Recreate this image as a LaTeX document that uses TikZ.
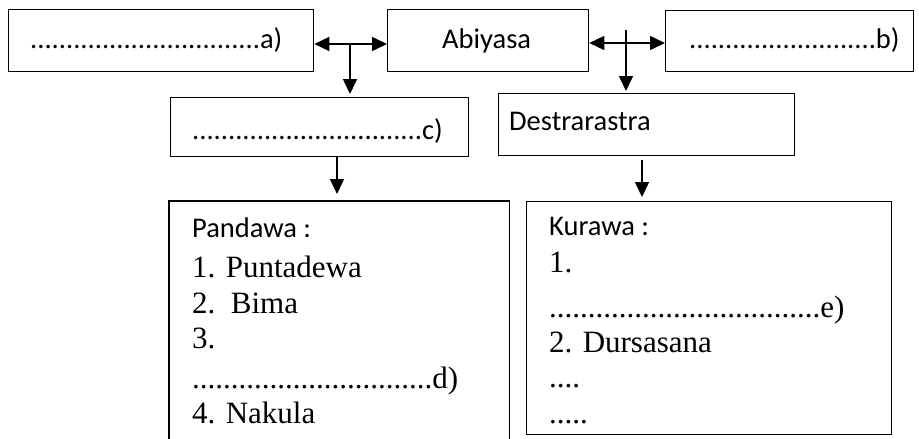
\documentclass[tikz,border=0pt]{standalone}
\usepackage{fontspec}
\setmainfont{Liberation Serif}
\newfontfamily\calib{Carlito}
\usetikzlibrary{arrows.meta}
\begin{document}
\begin{tikzpicture}[x=1pt,y=-1pt,
  box/.style={draw, line width=1.3pt, anchor=north west, inner sep=0pt},
  openbox/.style={anchor=north west, inner sep=0pt},
  stxt/.style={anchor=base west, inner sep=0pt, font=\calib\fontsize{28.5}{32}\selectfont},
  htxt/.style={anchor=base west, inner sep=0pt, font=\calib\fontsize{28.5}{32}\selectfont},
  rtxt/.style={anchor=base west, inner sep=0pt, font=\fontsize{31}{36}\selectfont},
  conn/.style={line width=1.5pt, -{Triangle[length=15pt,width=14pt]}},
  dconn/.style={line width=1.5pt, {Triangle[length=15pt,width=14pt]}-{Triangle[length=15pt,width=14pt]}}]
\useasboundingbox (0,0) rectangle (919,439);
% boxes
\node[box, minimum width=305pt, minimum height=62pt] (a) at (8,9) {};
\node[box, minimum width=201pt, minimum height=62pt] (abiyasa) at (387,9) {};
\node[box, minimum width=248pt, minimum height=61pt] (b) at (665,10) {};
\node[box, minimum width=298pt, minimum height=59pt] (c) at (170,97) {};
\node[box, minimum width=296pt, minimum height=62pt] (destra) at (498,93) {};
\node[openbox, minimum width=340pt, minimum height=250pt] (pandawa) at (169,201) {};
\draw[line width=1.3pt] (pandawa.south west) -- (pandawa.north west) -- (pandawa.north east) -- (pandawa.south east);
\node[box, minimum width=365pt, minimum height=233pt] (kurawa) at (526,201) {};
% texts
\node[stxt] (ta) at (30,48) {................................a)};
\node[stxt] (tabi) at (442,48) {Abiyasa};
\node[stxt] (tb) at (689,48) {..........................b)};
\node[stxt] (tc) at (192,139) {................................c)};
\node[stxt] (tdes) at (509,130) {Destrarastra};
\node[htxt] (tpan) at (192,237) {Pandawa :};
\node[rtxt] (p1) at (192,277) {1. Puntadewa};
\node[rtxt] (p2) at (192,313) {2.\ \ Bima};
\node[rtxt] (p3) at (192,348) {3.};
\node[rtxt] (pd) at (192,388) {...............................d)};
\node[rtxt] (p4) at (192,423) {4. Nakula};
\node[htxt] (tkur) at (549,235) {Kurawa :};
\node[rtxt] (k1) at (549,272) {1.};
\node[rtxt] (ke) at (549,317) {...................................e)};
\node[rtxt] (k2) at (549,352) {2. Dursasana};
\node[rtxt] (k3) at (549,387) {....};
\node[rtxt] (k4) at (549,423) {.....};
% connectors
\coordinate (j1) at (350,44);
\coordinate (j2) at (626,43);
\coordinate (j2top) at (626,30);
\draw[dconn] (a.east |- j1) -- (abiyasa.west |- j1);
\draw[conn, shorten >=3pt] (j1) -- (j1 |- c.north);
\draw[dconn] (abiyasa.east |- j2) -- (b.west |- j2);
\draw[conn, shorten >=2pt] (j2top) -- (j2top |- destra.north);
\coordinate (p0) at (337,0);
\draw[conn, shorten >=7pt] (p0 |- c.south) -- (p0 |- pandawa.north);
\coordinate (k0) at (642,0);
\draw[conn, shorten <=4pt, shorten >=4pt] (k0 |- destra.south) -- (k0 |- kurawa.north);
\end{tikzpicture}
\end{document}
